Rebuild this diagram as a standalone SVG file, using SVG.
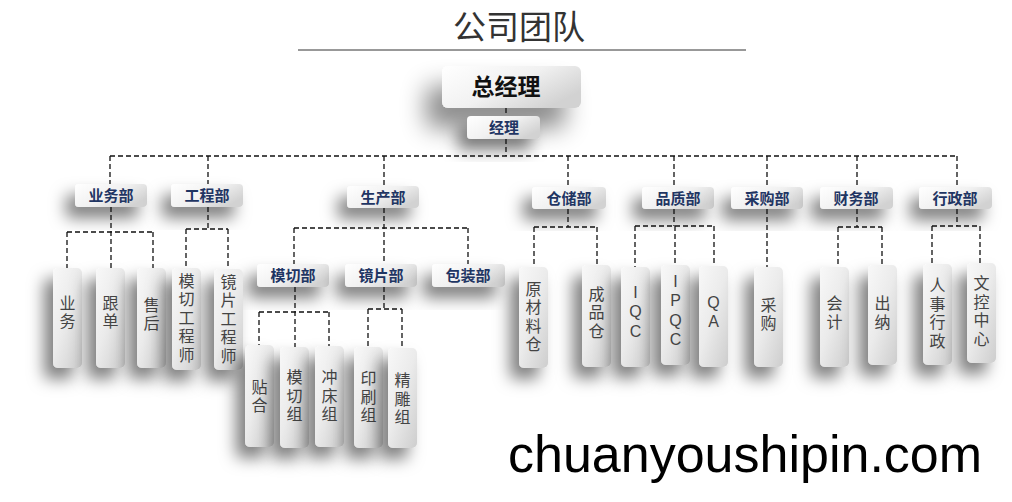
<svg xmlns="http://www.w3.org/2000/svg" width="1012" height="502" viewBox="0 0 1012 502">
<defs>
<linearGradient id="gh" x1="0" y1="0" x2="1" y2="0.6">
<stop offset="0" stop-color="#ffffff"/>
<stop offset="0.55" stop-color="#f1f1f1"/>
<stop offset="1" stop-color="#d2d2d2"/>
</linearGradient>
<linearGradient id="gv" x1="0" y1="0" x2="0.9" y2="1">
<stop offset="0" stop-color="#f8f8f8"/>
<stop offset="0.5" stop-color="#ebebeb"/>
<stop offset="1" stop-color="#d0d0d0"/>
</linearGradient>
<filter id="sh" x="-100%" y="-100%" width="300%" height="300%">
<feDropShadow dx="-9" dy="11" stdDeviation="8" flood-color="#000" flood-opacity="0.5"/>
</filter>
<filter id="shb" x="-100%" y="-100%" width="300%" height="300%">
<feDropShadow dx="-16" dy="20" stdDeviation="12" flood-color="#000" flood-opacity="0.45"/>
</filter>
</defs>
<style>
.title{font-family:"Noto Sans CJK SC","Liberation Sans",sans-serif;font-size:33px;fill:#333;text-anchor:middle}
.top{font-family:"Noto Sans CJK SC","Liberation Sans",sans-serif;font-size:23px;font-weight:bold;fill:#111;text-anchor:middle}
.dep{font-family:"Noto Sans CJK SC","Liberation Sans",sans-serif;font-size:15px;font-weight:bold;fill:#1f3563;text-anchor:middle}
.leaf{font-family:"Noto Sans CJK SC","Liberation Sans",sans-serif;font-size:16px;fill:#444;text-anchor:middle;writing-mode:vertical-rl;text-orientation:upright;letter-spacing:2.5px}
.lat{font-family:"Liberation Sans","Noto Sans CJK SC",sans-serif}
.bh{fill:url(#gh);filter:url(#sh)}
.bv{fill:url(#gv);filter:url(#sh)}
.bt{fill:url(#gh);filter:url(#shb)}
.cn{fill:none;stroke:#111;stroke-width:1.3;stroke-dasharray:5 3}
.wm{font-family:"Liberation Sans",Arial,sans-serif;font-size:52px;fill:#000}
</style>
<rect width="1012" height="502" fill="#fff"/>
<text class="title" x="519" y="39">公司团队</text>
<line x1="298" y1="50" x2="746" y2="50" stroke="#333" stroke-width="1"/>

<g id="n-zjl"><rect class="bt" x="442" y="66" width="139" height="42" rx="6"/><text class="top" x="506" y="95">总经理</text></g>
<g id="n-jl"><rect class="bh" x="467" y="116" width="73" height="23" rx="4"/><text class="dep" x="504" y="133">经理</text></g>

<g id="n-ywb"><rect class="bh" x="75" y="184" width="72" height="23" rx="4"/><text class="dep" x="111" y="201">业务部</text></g>
<g id="n-gcb"><rect class="bh" x="171" y="184" width="72" height="23" rx="4"/><text class="dep" x="207" y="201">工程部</text></g>
<g id="n-scb"><rect class="bh" x="347" y="186" width="72" height="22" rx="4"/><text class="dep" x="383" y="202.5">生产部</text></g>
<g id="n-ccb"><rect class="bh" x="532" y="187" width="74" height="22" rx="4"/><text class="dep" x="569" y="203.5">仓储部</text></g>
<g id="n-pzb"><rect class="bh" x="642" y="187" width="72" height="22" rx="4"/><text class="dep" x="678" y="203.5">品质部</text></g>
<g id="n-cgb"><rect class="bh" x="731" y="187" width="72" height="22" rx="4"/><text class="dep" x="767" y="203.5">采购部</text></g>
<g id="n-cwb"><rect class="bh" x="820" y="187" width="73" height="22" rx="4"/><text class="dep" x="856" y="203.5">财务部</text></g>
<g id="n-xzb"><rect class="bh" x="919" y="187" width="73" height="22" rx="4"/><text class="dep" x="955" y="203.5">行政部</text></g>

<g id="n-mqb"><rect class="bh" x="257" y="264" width="72" height="23" rx="4"/><text class="dep" x="293" y="281">模切部</text></g>
<g id="n-jpb"><rect class="bh" x="345" y="264" width="72" height="23" rx="4"/><text class="dep" x="381" y="281">镜片部</text></g>
<g id="n-bzb"><rect class="bh" x="432" y="264" width="73" height="23" rx="4"/><text class="dep" x="468" y="281">包装部</text></g>

<g id="n-yw"><rect class="bv" x="53" y="268" width="29" height="100" rx="5"/><text class="leaf" x="67.5" y="313">业务</text></g>
<g id="n-gd"><rect class="bv" x="96" y="268" width="29" height="100" rx="5"/><text class="leaf" x="110.5" y="313">跟单</text></g>
<g id="n-sh"><rect class="bv" x="137" y="268" width="29" height="100" rx="5"/><text class="leaf" x="151.5" y="315">售后</text></g>
<g id="n-mqgcs"><rect class="bv" x="172" y="268" width="29" height="102" rx="5"/><text class="leaf" x="186.5" y="319">模切工程师</text></g>
<g id="n-jpgcs"><rect class="bv" x="214" y="269" width="29" height="101" rx="5"/><text class="leaf" x="228.5" y="320">镜片工程师</text></g>
<g id="n-th"><rect class="bv" x="245" y="345" width="29" height="102" rx="5"/><text class="leaf" x="259.5" y="397">贴合</text></g>
<g id="n-mqz"><rect class="bv" x="280" y="347" width="29" height="101" rx="5"/><text class="leaf" x="294.5" y="397">模切组</text></g>
<g id="n-ccz"><rect class="bv" x="315" y="346" width="29" height="101" rx="5"/><text class="leaf" x="329.5" y="397">冲床组</text></g>
<g id="n-ysz"><rect class="bv" x="354" y="347" width="29" height="101" rx="5"/><text class="leaf" x="368.5" y="398">印刷组</text></g>
<g id="n-jdz"><rect class="bv" x="388" y="348" width="29" height="100" rx="5"/><text class="leaf" x="402.5" y="400">精雕组</text></g>
<g id="n-ycl"><rect class="bv" x="519" y="267" width="29" height="101" rx="5"/><text class="leaf" x="533.5" y="317.5">原材料仓</text></g>
<g id="n-cpc"><rect class="bv" x="582" y="265" width="29" height="102" rx="5"/><text class="leaf" x="596.5" y="313.5">成品仓</text></g>
<g id="n-iqc"><rect class="bv" x="621" y="267" width="29" height="100" rx="5"/><text class="leaf lat" x="635.5" y="313">IQC</text></g>
<g id="n-ipqc"><rect class="bv" x="661" y="265" width="29" height="100" rx="5"/><text class="leaf lat" x="675.5" y="311.5">IPQC</text></g>
<g id="n-qa"><rect class="bv" x="699" y="266" width="29" height="101" rx="5"/><text class="leaf lat" x="713.5" y="313">QA</text></g>
<g id="n-cg"><rect class="bv" x="754" y="267" width="29" height="100" rx="5"/><text class="leaf" x="768.5" y="315">采购</text></g>
<g id="n-kj"><rect class="bv" x="820" y="267" width="29" height="100" rx="5"/><text class="leaf" x="834.5" y="313.5">会计</text></g>
<g id="n-cn"><rect class="bv" x="868" y="265" width="29" height="100" rx="5"/><text class="leaf" x="882.5" y="313.5">出纳</text></g>
<g id="n-rsxz"><rect class="bv" x="923" y="264" width="29" height="101" rx="5"/><text class="leaf" x="937.5" y="314">人事行政</text></g>
<g id="n-wkzx"><rect class="bv" x="967" y="263" width="29" height="100" rx="5"/><text class="leaf" x="981.5" y="312">文控中心</text></g>

<g id="connectors">
<path class="cn" d="M506,108V116M506,139V156M110,156H957M110,156V184M208,156V184M384,156V186M568,156V187M674,156V187M767,156V187M857,156V187M957,156V187"/>
<path class="cn" d="M111,207V268M67,232H153M67,232V268M153,232V268"/>
<path class="cn" d="M208,207V229M186,229H228M186,229V268M228,229V269"/>
<path class="cn" d="M384,208V264M294,228H468M294,228V264M468,228V264"/>
<path class="cn" d="M295,287V347M259,312H329M259,312V345M329,312V346"/>
<path class="cn" d="M384,287V309M368,309H402M368,309V347M402,309V348"/>
<path class="cn" d="M568,209V227M534,227H597M534,227V267M597,227V265"/>
<path class="cn" d="M674,209V226M675,226V265M635,226H714M635,226V267M714,226V266"/>
<path class="cn" d="M767,209V267"/>
<path class="cn" d="M857,209V227M838,227H882M838,227V267M882,227V265"/>
<path class="cn" d="M957,209V226M932,226H980M932,226V264M980,226V263"/>
</g>

<text class="wm" x="508" y="472">chuanyoushipin.com</text>
</svg>
